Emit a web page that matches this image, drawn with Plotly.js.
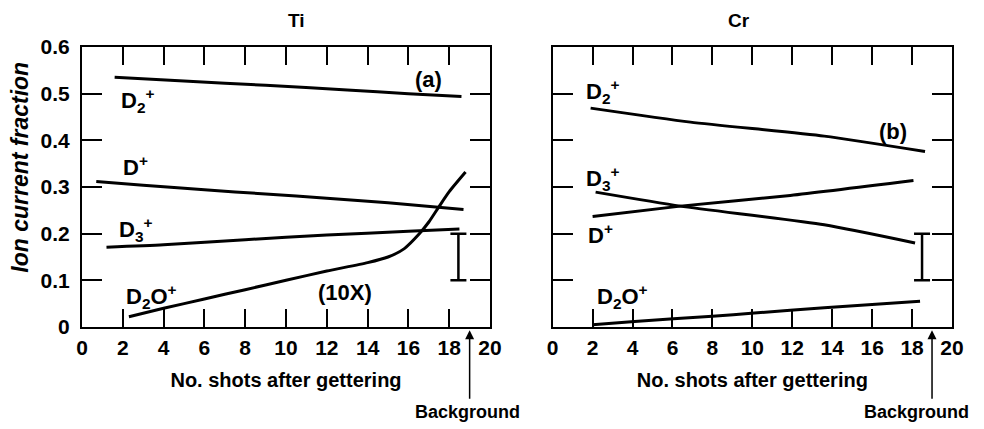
<!DOCTYPE html>
<html>
<head>
<meta charset="utf-8">
<script src="https://cdn.plot.ly/plotly-3.0.1.min.js"></script>
<style>html,body{margin:0;padding:0;background:#fff;}#chart{width:984px;height:429px;}</style>
</head>
<body>
<div id="chart"></div>
<script>
// ---- Ti panel (a) ----
var tiD2x = [1.6, 5, 9, 13, 16, 18.6];
var tiD2y = [0.535, 0.527, 0.518, 0.508, 0.500, 0.494];
var tiDx = [0.7, 3, 6, 9, 12, 15, 18.7];
var tiDy = [0.312, 0.304, 0.294, 0.285, 0.276, 0.266, 0.252];
var tiD3x = [1.2, 4, 8, 12, 16, 18.5];
var tiD3y = [0.171, 0.176, 0.187, 0.197, 0.205, 0.210];
var tiD2Ox = [2.3, 4, 6, 8, 10, 12, 14, 15, 15.8, 16.5, 17, 17.5, 18, 18.8];
var tiD2Oy = [0.022, 0.040, 0.060, 0.080, 0.100, 0.120, 0.138, 0.150, 0.168, 0.198, 0.225, 0.258, 0.290, 0.332];
var tiBgX = 18.45, tiBgLow = 0.1, tiBgHigh = 0.2;

// ---- Cr panel (b) ----
var crD2x = [1.9, 6.9, 13.6, 18.65];
var crD2y = [0.469, 0.439, 0.409, 0.376];
var crD3x = [2.15, 6.4, 13.6, 18.15];
var crD3y = [0.289, 0.259, 0.219, 0.180];
var crDx = [2.0, 6.4, 11.9, 18.07];
var crDy = [0.237, 0.259, 0.282, 0.314];
var crD2Ox = [2.0, 4.1, 8.0, 10.1, 13.6, 18.4];
var crD2Oy = [0.005, 0.012, 0.023, 0.030, 0.041, 0.055];
var crBgX = 18.5, crBgLow = 0.1, crBgHigh = 0.2;

var backgroundShot = 19;
var xTicks = [0, 2, 4, 6, 8, 10, 12, 14, 16, 18, 20];
var yTicks = [0, 0.1, 0.2, 0.3, 0.4, 0.5, 0.6];
var yTickText = ['0', '0.1', '0.2', '0.3', '0.4', '0.5', '0.6'];

var FONT = 'Liberation Sans, Arial, sans-serif';
var lineStyle = {color: '#000', width: 3, shape: 'spline', smoothing: 0.6};

function curve(x, y, xa, ya) {
  return {x: x, y: y, xaxis: xa, yaxis: ya, mode: 'lines', line: lineStyle, hoverinfo: 'skip', showlegend: false};
}
function bgBar(x, lo, hi, xa, ya) {
  return {x: [x], y: [(lo + hi) / 2], xaxis: xa, yaxis: ya, mode: 'markers',
    marker: {size: 1, opacity: 0}, showlegend: false, hoverinfo: 'skip',
    error_y: {type: 'data', array: [(hi - lo) / 2], visible: true, color: '#000', thickness: 2.5, width: 8}};
}

var data = [
  curve(tiD2x, tiD2y, 'x', 'y'),
  curve(tiDx, tiDy, 'x', 'y'),
  curve(tiD3x, tiD3y, 'x', 'y'),
  curve(tiD2Ox, tiD2Oy, 'x', 'y'),
  bgBar(tiBgX, tiBgLow, tiBgHigh, 'x', 'y'),
  curve(crD2x, crD2y, 'x2', 'y2'),
  curve(crD3x, crD3y, 'x2', 'y2'),
  curve(crDx, crDy, 'x2', 'y2'),
  curve(crD2Ox, crD2Oy, 'x2', 'y2'),
  bgBar(crBgX, crBgLow, crBgHigh, 'x2', 'y2')
];

function xAxis(domain, anchor) {
  return {
    domain: domain, anchor: anchor, range: [0, 20],
    tickvals: xTicks, ticktext: xTicks.map(String),
    ticks: 'inside', ticklen: 18, tickwidth: 2, tickcolor: '#000',
    showline: true, linewidth: 2, linecolor: '#000', mirror: 'allticks',
    showgrid: false, zeroline: false,
    tickfont: {family: FONT, size: 21, color: '#000', weight: 'bold'},
    ticklabelstandoff: 1,
    title: {text: 'No. shots after gettering', font: {family: FONT, size: 20, color: '#000', weight: 'bold'}, standoff: 15}
  };
}
function yAxis(anchor, labels) {
  return {
    anchor: anchor, range: [0, 0.6], domain: [0, 1],
    tickvals: yTicks, ticktext: labels ? yTickText : yTicks.map(function(){return '';}),
    ticks: 'inside', ticklen: 20, tickwidth: 2, tickcolor: '#000',
    showline: true, linewidth: 2, linecolor: '#000', mirror: 'allticks',
    showgrid: false, zeroline: false,
    tickfont: {family: FONT, size: 21, color: '#000', weight: 'bold'},
    ticklabelstandoff: 6
  };
}

function lbl(x, y, text, xa, ya) {
  return {x: x, y: y, xref: xa, yref: ya, text: text, showarrow: false,
    font: {family: FONT, size: 22, color: '#000', weight: 'bold'}};
}
function bgArrow(xa) {
  return {x: backgroundShot, y: -0.012, xref: xa, yref: 'paper', text: '', showarrow: true,
    arrowhead: 2, arrowsize: 1.2, arrowwidth: 1.5, arrowcolor: '#000', ax: 0, ay: 70, standoff: 0};
}
function bgText(xa, shift) {
  return {x: backgroundShot, y: -0.305, xref: xa, yref: 'paper', xshift: shift, yanchor: 'middle',
    text: 'Background', showarrow: false, font: {family: FONT, size: 18, color: '#000', weight: 'bold'}};
}

var annotations = [
  {x: 0.2345, y: 1, xref: 'paper', yref: 'paper', yanchor: 'bottom', yshift: 14, text: 'Ti', showarrow: false,
   font: {family: FONT, size: 19, color: '#000', weight: 'bold'}},
  {x: 0.7701, y: 1, xref: 'paper', yref: 'paper', yanchor: 'bottom', yshift: 14, text: 'Cr', showarrow: false,
   font: {family: FONT, size: 19, color: '#000', weight: 'bold'}},
  {x: 0, y: 0.569, xref: 'paper', yref: 'paper', xanchor: 'center', yanchor: 'middle', xshift: -62, textangle: -90,
   text: 'Ion current fraction', showarrow: false,
   font: {family: FONT, size: 23, color: '#000', weight: 'bold', style: 'italic'}},
  lbl(2.7, 0.485, 'D<sub>2</sub><sup>+</sup>', 'x', 'y'),
  lbl(17.0, 0.53, '(a)', 'x', 'y'),
  lbl(2.6, 0.345, 'D<sup>+</sup>', 'x', 'y'),
  lbl(2.6, 0.21, 'D<sub>3</sub><sup>+</sup>', 'x', 'y'),
  lbl(3.4, 0.065, 'D<sub>2</sub>O<sup>+</sup>', 'x', 'y'),
  lbl(12.9, 0.074, '(10X)', 'x', 'y'),
  lbl(2.5, 0.505, 'D<sub>2</sub><sup>+</sup>', 'x2', 'y2'),
  lbl(17.05, 0.419, '(b)', 'x2', 'y2'),
  lbl(2.5, 0.318, 'D<sub>3</sub><sup>+</sup>', 'x2', 'y2'),
  lbl(2.4, 0.2, 'D<sup>+</sup>', 'x2', 'y2'),
  lbl(3.5, 0.065, 'D<sub>2</sub>O<sup>+</sup>', 'x2', 'y2'),
  bgArrow('x'), bgText('x', -2),
  bgArrow('x2'), bgText('x2', -16)
];

var layout = {
  width: 984, height: 429,
  margin: {l: 82, r: 32, t: 47, b: 101.5, pad: 0},
  paper_bgcolor: '#fff', plot_bgcolor: '#fff',
  showlegend: false,
  xaxis: xAxis([0, 0.469], 'y'),
  yaxis: yAxis('x', true),
  xaxis2: xAxis([0.541, 1], 'y2'),
  yaxis2: yAxis('x2', false),
  annotations: annotations
};

Plotly.newPlot('chart', data, layout, {staticPlot: true, displayModeBar: false});
</script>
</body>
</html>
